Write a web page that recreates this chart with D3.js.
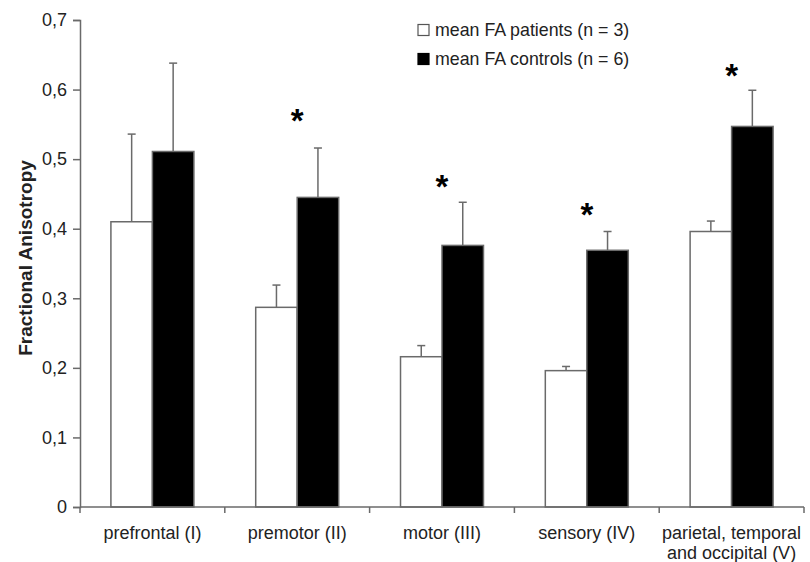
<!DOCTYPE html>
<html>
<head>
<meta charset="utf-8">
<script src="https://cdn.jsdelivr.net/npm/d3@7"></script>
<style>
  html, body { margin: 0; padding: 0; background: #ffffff; }
  svg { display: block; }
  text { font-family: "Liberation Sans", Arial, sans-serif; fill: #222; }
</style>
</head>
<body>
<svg id="chart" width="810" height="562"></svg>
<script>
const categories = ["prefrontal (I)", "premotor (II)", "motor (III)", "sensory (IV)", "parietal, temporal|and occipital (V)"];
const seriesNames = ["mean FA patients (n = 3)", "mean FA controls (n = 6)"];
const patientsMean = [0.410, 0.287, 0.216, 0.196, 0.396];
const patientsErr  = [0.126, 0.032, 0.016, 0.006, 0.015];
const controlsMean = [0.511, 0.445, 0.376, 0.369, 0.547];
const controlsErr  = [0.127, 0.071, 0.062, 0.027, 0.052];
const significant  = [false, true, true, true, true];
const starLevel    = [null, 0.566, 0.471, 0.431, 0.631];
const yTicks = [0, 0.1, 0.2, 0.3, 0.4, 0.5, 0.6, 0.7];

const svg = d3.select("#chart");
const margin = { left: 80, right: 6, top: 20, bottom: 55 };
const W = 810, H = 562;
const plotBottom = H - margin.bottom; // 507

const y = d3.scaleLinear().domain([0, 0.7]).range([plotBottom, margin.top]);
const x0 = d3.scaleBand().domain(categories).range([margin.left, W - margin.right]).padding(0);
const x1 = d3.scaleBand().domain(seriesNames).range([0, x0.bandwidth()]).paddingInner(0).paddingOuter(0.745);

const data = categories.map((c, i) => ({
  cat: c,
  bars: [
    { s: seriesNames[0], v: patientsMean[i], e: patientsErr[i], fill: "#ffffff" },
    { s: seriesNames[1], v: controlsMean[i], e: controlsErr[i], fill: "#000000" }
  ],
  sig: significant[i],
  star: starLevel[i]
}));

const axisColor = "#6a6a6a";

// Error bars
const g = svg.append("g");
data.forEach(d => {
  d.bars.forEach(b => {
    const cx = x0(d.cat) + x1(b.s) + x1.bandwidth() / 2;
    g.append("line")
      .attr("x1", cx).attr("x2", cx)
      .attr("y1", y(b.v)).attr("y2", y(b.v + b.e))
      .attr("stroke", axisColor).attr("stroke-width", 1.5);
    g.append("line")
      .attr("x1", cx - 4).attr("x2", cx + 4)
      .attr("y1", y(b.v + b.e)).attr("y2", y(b.v + b.e))
      .attr("stroke", axisColor).attr("stroke-width", 1.5);
  });
});

// Bars
data.forEach(d => {
  g.selectAll(null).data(d.bars).enter().append("rect")
    .attr("x", b => x0(d.cat) + x1(b.s))
    .attr("y", b => y(b.v))
    .attr("width", x1.bandwidth())
    .attr("height", b => plotBottom - y(b.v))
    .attr("fill", b => b.fill)
    .attr("stroke", axisColor)
    .attr("stroke-width", 1.5);
});

// Asterisks
data.filter(d => d.sig).forEach(d => {
  svg.append("text")
    .attr("x", x0(d.cat) + x0.bandwidth() / 2)
    .attr("y", y(d.star) + 19)
    .attr("text-anchor", "middle")
    .attr("font-size", 33)
    .attr("font-weight", "bold")
    .style("fill", "#000")
    .text("*");
});

// Y axis
const yAxis = d3.axisLeft(y).tickValues(yTicks).tickSize(7).tickPadding(6)
  .tickFormat(v => v === 0 ? "0" : d3.format(".1f")(v).replace(".", ","));
const ya = svg.append("g").attr("transform", `translate(${margin.left},0)`).call(yAxis);
ya.select(".domain").attr("stroke", axisColor).attr("stroke-width", 1.5);
ya.selectAll(".tick line").attr("stroke", axisColor).attr("stroke-width", 1.5);
ya.selectAll(".tick text").attr("font-size", 18).attr("font-family", "Liberation Sans, Arial, sans-serif").style("fill", "#222");

// X axis line + ticks at category boundaries
const boundaries = categories.map(c => x0(c)).concat([x0(categories[categories.length - 1]) + x0.bandwidth()]);
svg.append("line")
  .attr("x1", margin.left).attr("x2", W - margin.right)
  .attr("y1", plotBottom).attr("y2", plotBottom)
  .attr("stroke", axisColor).attr("stroke-width", 1.5);
svg.selectAll(".xtick").data(boundaries).enter().append("line")
  .attr("x1", d => d).attr("x2", d => d)
  .attr("y1", plotBottom).attr("y2", plotBottom + 6)
  .attr("stroke", axisColor).attr("stroke-width", 1.5);

// X labels
categories.forEach(c => {
  const lines = c.split("|");
  const t = svg.append("text")
    .attr("x", x0(c) + x0.bandwidth() / 2)
    .attr("y", 539)
    .attr("text-anchor", "middle")
    .attr("font-size", 18);
  lines.forEach((ln, i) => {
    t.append("tspan").attr("x", x0(c) + x0.bandwidth() / 2).attr("dy", i === 0 ? 0 : 20).text(ln);
  });
});

// Y title
svg.append("text")
  .attr("transform", `translate(32,258) rotate(-90)`)
  .attr("text-anchor", "middle")
  .attr("font-size", 19)
  .attr("font-weight", "bold")
  .text("Fractional Anisotropy");

// Legend
const legend = svg.append("g");
seriesNames.forEach((s, i) => {
  const cy = 30 + i * 29;
  legend.append("rect")
    .attr("x", 418).attr("y", cy - 5.5)
    .attr("width", 11).attr("height", 11)
    .attr("fill", i === 0 ? "#fff" : "#000")
    .attr("stroke", i === 0 ? "#555" : "#000")
    .attr("stroke-width", 1.2);
  legend.append("text")
    .attr("x", 435).attr("y", cy + 6)
    .attr("font-size", 17.8)
    .text(s);
});
</script>
</body>
</html>
